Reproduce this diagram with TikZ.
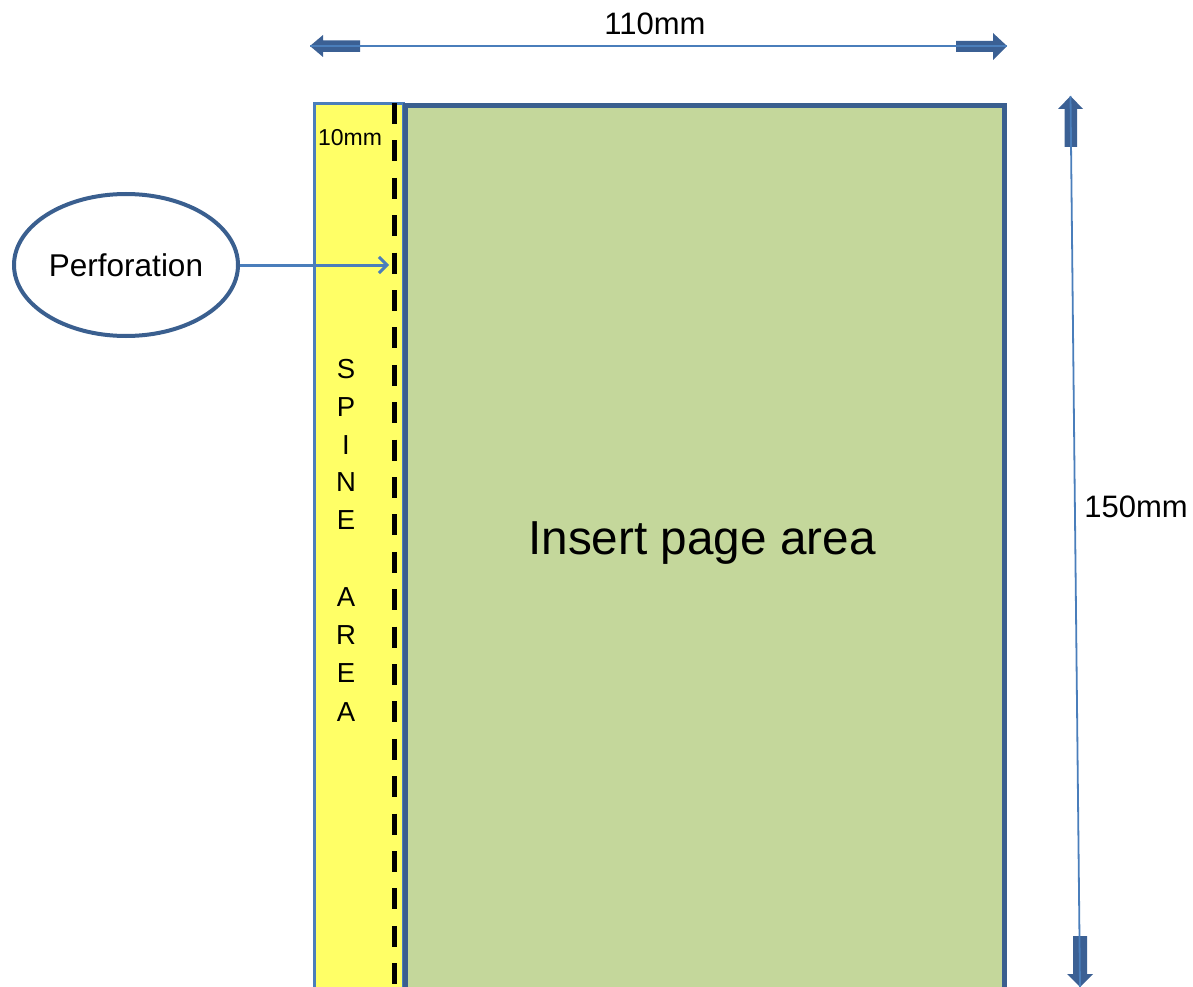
\documentclass[tikz,border=0pt]{standalone}
\usepackage{fontspec}
\setmainfont{Liberation Sans}
\usetikzlibrary{shapes.geometric,arrows.meta}
\definecolor{darkedge}{HTML}{3A5F8F}
\definecolor{thinblue}{HTML}{4A7EBB}
\definecolor{spineyellow}{HTML}{FFFF66}
\definecolor{pagegreen}{HTML}{C4D79B}
\definecolor{blockblue}{HTML}{3B6094}
\tikzset{
  x=1pt, y=-1pt,
  dimline/.style={draw=thinblue, line width=1.8pt},
  lbl/.style={inner sep=0pt, font=\fontsize{31}{36}\selectfont},
  spineletter/.style={inner sep=0pt, font=\fontsize{27.5}{32}\selectfont},
}
\begin{document}
\begin{tikzpicture}
\useasboundingbox (0,0) rectangle (1193,987);
\begin{scope}
\clip (0,0) rectangle (1193,987);
% spine area
\node[draw=thinblue, line width=3pt, fill=spineyellow, rectangle, anchor=north west,
      minimum width=89pt, minimum height=900pt, inner sep=0pt] (spine) at (313,102) {};
% insert page
\node[draw=darkedge, line width=5pt, fill=pagegreen, rectangle, anchor=north west,
      minimum width=599pt, minimum height=900pt, inner sep=0pt] (page) at (403,103) {};
% perforation dashed line
\coordinate (perftop) at (394,103);
\coordinate (perfbot) at (394,1000);
\draw[black, line width=5pt, dash pattern=on 21pt off 16.4pt] (perftop) -- (perfbot);
\end{scope}
% texts
\node[font=\fontsize{23}{27}\selectfont, inner sep=0pt] (tenmm) at (350,138) {10mm};
\node[font=\fontsize{47.7}{56}\selectfont, inner sep=0pt] (insert) at (702,543) {Insert page area};
\foreach \ch/\yy [count=\i] in {S/369,P/407,I/445,N/482,E/520,A/597,R/635,E/673,A/712}
  \node[spineletter] (sp\i) at (346,\yy) {\ch};
% perforation ellipse
\node[ellipse, draw=darkedge, line width=4pt, fill=white, minimum width=224pt, minimum height=142pt, inner sep=0pt,
      font=\fontsize{31.5}{37}\selectfont] (perf) at (126,265) {Perforation};
\coordinate (perfpt) at (389,265);
\draw[thinblue, line width=3pt, -{Straight Barb[length=8pt,width=16pt]}] (perf.east) -- (perfpt);
% horizontal dimension
\coordinate (hl) at (310,46);
\coordinate (hr) at (1007,46);
\fill[blockblue] (hl) -- (323,35) -- (323,40.5) -- (360,40.5) -- (360,52) -- (323,52) -- (323,57) -- cycle;
\fill[blockblue] (hr) -- (993,33) -- (993,41) -- (956,41) -- (956,52) -- (993,52) -- (993,60) -- cycle;
\draw[dimline] (hl) -- (hr);
\node[lbl] (w) at (655,24) {110mm};
% vertical dimension
\coordinate (vt) at (1070.5,96);
\coordinate (vb) at (1080,987);
\fill[blockblue] (vt) -- (1058,109) -- (1064.5,109) -- (1064.5,147) -- (1077,147) -- (1077,109) -- (1083,109) -- cycle;
\fill[blockblue] (vb) -- (1067,974) -- (1073,974) -- (1073,936) -- (1087,936) -- (1087,974) -- (1093,974) -- cycle;
\draw[dimline] (vt) -- (vb);
\node[lbl] (h) at (1136,507) {150mm};
\end{tikzpicture}
\end{document}
